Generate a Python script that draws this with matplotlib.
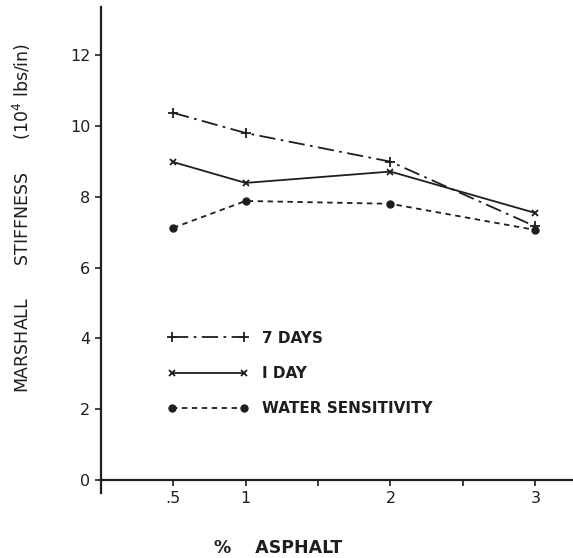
import numpy as np
import matplotlib
matplotlib.use("Agg")
import matplotlib.pyplot as plt

# percent asphalt
asphalt = [0.5, 1, 2, 3]

# marshall stiffness (10^4 lbs/in)
stiff_7days = [10.37, 9.80, 8.99, 7.16]
stiff_1day = [8.98, 8.39, 8.71, 7.54]
stiff_water = [7.12, 7.88, 7.80, 7.06]

xticks = [0, 0.5, 1, 1.5, 2, 2.5, 3]
xtick_labels = ["", ".5", "1", "", "2", "", "3"]
yticks = [0, 2, 4, 6, 8, 10, 12]

ink = "#1e1e1e"

fig = plt.figure(figsize=(5.73, 5.58), dpi=100)
ax = fig.add_axes([0.1757, 0.1165, 1 - 0.1757, 0.871])

l1, = ax.plot(asphalt, stiff_7days, color=ink, lw=1.3, marker="+", ms=7, mew=1.3,
              dashes=[9, 3, 1.5, 3], label="7 DAYS")
l2, = ax.plot(asphalt, stiff_1day, color=ink, lw=1.3, marker="x", ms=5, mew=1.3,
              label="I DAY")
l3, = ax.plot(asphalt, stiff_water, color=ink, lw=1.3, marker="o", ms=5,
              dashes=[3, 2.5], label="WATER SENSITIVITY")

ax.set_xlim(0, 3.26)
ax.set_ylim(-0.37, 13.36)

ax.spines["top"].set_visible(False)
ax.spines["right"].set_visible(False)
ax.spines["bottom"].set_position(("data", 0))
for s in ["left", "bottom"]:
    ax.spines[s].set_linewidth(1.6)
    ax.spines[s].set_color(ink)

ax.set_xticks(xticks)
ax.set_xticklabels(xtick_labels)
ax.set_yticks(yticks)
ax.tick_params(axis="both", direction="out", length=4, width=1.2, color=ink,
               labelsize=11.5, labelcolor=ink)
ax.tick_params(axis="x", pad=4)

leg = ax.legend(handles=[l1, l2, l3], loc="upper left",
                bbox_to_anchor=(0.46, 4.22), bbox_transform=ax.transData,
                frameon=False, fontsize=11, handlelength=5.3, handletextpad=0.88,
                labelspacing=1.34, borderpad=0, borderaxespad=0, numpoints=2)
for t in leg.get_texts():
    t.set_color(ink)
    t.set_fontweight("bold")

fig.text(278 / 573, 1 - 548 / 558, "%    ASPHALT", ha="center", va="center",
         fontsize=12.5, fontweight="bold", color=ink)
fig.text(22 / 573, 1 - 218 / 558, "MARSHALL      STIFFNESS      (10$^4$ lbs/in)",
         rotation=90, ha="center", va="center", fontsize=12.5, color=ink)

fig.savefig("out.png", dpi=100)
